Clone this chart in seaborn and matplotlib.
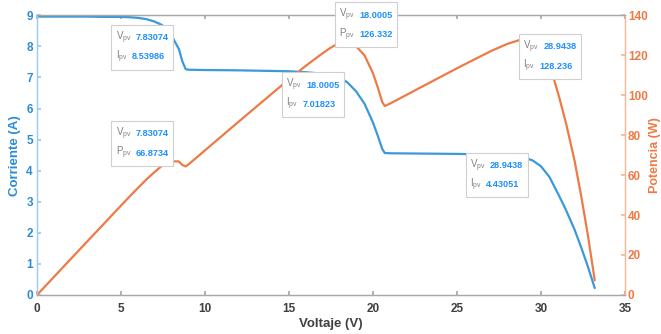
import matplotlib
matplotlib.use("Agg")
import matplotlib.pyplot as plt
from matplotlib.offsetbox import TextArea, HPacker, VPacker, AnnotationBbox
import seaborn as sns
import pandas as pd

# PV panel sweep: voltage (V), current (A) and power (W)
voltaje = [0, 1, 2, 3, 4, 5, 5.5, 6, 6.5, 7, 7.4, 7.83074, 8.1, 8.45, 8.65, 8.85,
           9.0, 10, 12, 14, 15, 16, 16.8, 17.4, 18.0005, 18.5, 19.0, 19.5, 20.0,
           20.3, 20.55, 20.7, 21, 23, 25, 27, 28, 28.9438, 29.5, 30, 30.5, 31.07,
           31.5, 32, 32.4, 32.8, 33.2]
corriente = [8.96, 8.96, 8.96, 8.96, 8.95, 8.95, 8.94, 8.92, 8.88, 8.80, 8.70, 8.53986,
             8.26, 7.91, 7.52, 7.27, 7.25, 7.24, 7.23, 7.21, 7.20, 7.17, 7.13, 7.09,
             7.01823, 6.83, 6.55, 6.15, 5.55, 5.10, 4.70, 4.57, 4.56, 4.55, 4.54, 4.52,
             4.49, 4.43051, 4.33, 4.14, 3.80, 3.20, 2.72, 2.10, 1.52, 0.90, 0.22]
potencia = [0, 8.96, 17.92, 26.88, 35.80, 44.75, 49.17, 53.52, 57.72, 61.60, 64.38,
            66.8734, 66.91, 66.84, 65.05, 64.34, 65.25, 72.40, 86.76, 100.94, 108.0,
            114.72, 119.78, 123.37, 126.332, 126.36, 124.45, 119.93, 111.0, 103.53,
            96.59, 94.60, 95.76, 104.65, 113.5, 122.04, 125.72, 128.236, 127.74, 124.2,
            115.9, 99.42, 85.68, 67.2, 49.25, 29.52, 7.30]

# Data tips: (voltage, value, value-name, which axis, box placement)
tip_v = [7.83074, 7.83074, 18.0005, 18.0005, 28.9438, 28.9438]
tip_val = [8.53986, 66.8734, 126.332, 7.01823, 128.236, 4.43051]
tip_name = ["I", "P", "P", "I", "I", "I"]
tip_axis = ["cur", "pow", "pow", "cur", "pow", "cur"]
tip_align = [(1, 1), (1, 0), (0, 0), (1, 1), (0, 1), (1, 1)]

blue = "#3a9ad9"
blue_txt = "#2b8bd6"
orange = "#ee7a45"
gray_axis = "#a8a8a8"

sns.set_theme(style="white")
plt.rcParams["font.family"] = ["Liberation Sans", "DejaVu Sans"]
plt.rcParams["mathtext.default"] = "regular"

fig = plt.figure(figsize=(6.61, 3.34), dpi=100)
ax = fig.add_axes([0.056, 0.117, 0.8895, 0.837])
ax2 = ax.twinx()

df = pd.DataFrame({"Voltaje": voltaje, "Corriente": corriente, "Potencia": potencia})
sns.lineplot(data=df, x="Voltaje", y="Corriente", ax=ax, color=blue, lw=1.6)
sns.lineplot(data=df, x="Voltaje", y="Potencia", ax=ax2, color=orange, lw=1.6)

ax.set_xlim(0, 35)
ax.set_ylim(0, 9)
ax2.set_ylim(0, 140)
ax.set_xticks(range(0, 36, 5))
ax.set_yticks(range(0, 10))
ax2.set_yticks(range(0, 141, 20))

ax.set_xlabel("Voltaje (V)", fontsize=9.5, fontweight="bold", color="#404040", labelpad=2)
ax.set_ylabel("Corriente (A)", fontsize=9.5, fontweight="bold", color=blue_txt, labelpad=4)
ax2.set_ylabel("Potencia (W)", fontsize=9, fontweight="bold", color=orange, labelpad=1)

ax.tick_params(axis="x", direction="in", length=3, top=True, bottom=True,
               colors=gray_axis, labelcolor="#404040", labelsize=8.5, pad=6)
ax.tick_params(axis="y", direction="in", length=3, left=True, right=False,
               colors="#9fcbee", labelcolor=blue_txt, labelsize=8.5, pad=3)
ax2.tick_params(axis="y", direction="in", length=3, right=True,
                colors="#f6b896", labelcolor=orange, labelsize=8.5, pad=2)
for lab in ax.get_xticklabels() + ax.get_yticklabels() + ax2.get_yticklabels():
    lab.set_fontweight("bold")

for a in (ax, ax2):
    a.spines["top"].set_color(gray_axis)
    a.spines["bottom"].set_color(gray_axis)
    a.spines["left"].set_color("#9fcbee")
    a.spines["right"].set_color("#f6b896")
    for s in a.spines.values():
        s.set_linewidth(0.9)

# Data tips drawn on the top axes so they sit above both curves
for v, val, name, which, align in zip(tip_v, tip_val, tip_name, tip_axis, tip_align):
    src = ax if which == "cur" else ax2
    src.plot([v], [val], "o", color="#222222", ms=2.2, zorder=5)
    val_txt = f"{val:.6g}"
    rows = []
    for lab, num in ((r"V$_{pv}$", f"{v:.6g}"), (name + r"$_{pv}$", val_txt)):
        t1 = TextArea(lab, textprops=dict(color="#808080", fontsize=7))
        t2 = TextArea(num, textprops=dict(color="#1e90ff", fontsize=6.6, fontweight="bold"))
        rows.append(HPacker(children=[t1, t2], align="baseline", pad=0, sep=3))
    box = VPacker(children=rows, align="left", pad=0, sep=2)
    ab = AnnotationBbox(box, (v, val), xycoords=src.transData, box_alignment=align,
                        frameon=True, pad=0.3,
                        bboxprops=dict(facecolor="white", edgecolor="#d0d0d0", lw=0.8,
                                       boxstyle="square"),
                        zorder=10)
    ax2.add_artist(ab)

fig.savefig("out.png", dpi=100)
